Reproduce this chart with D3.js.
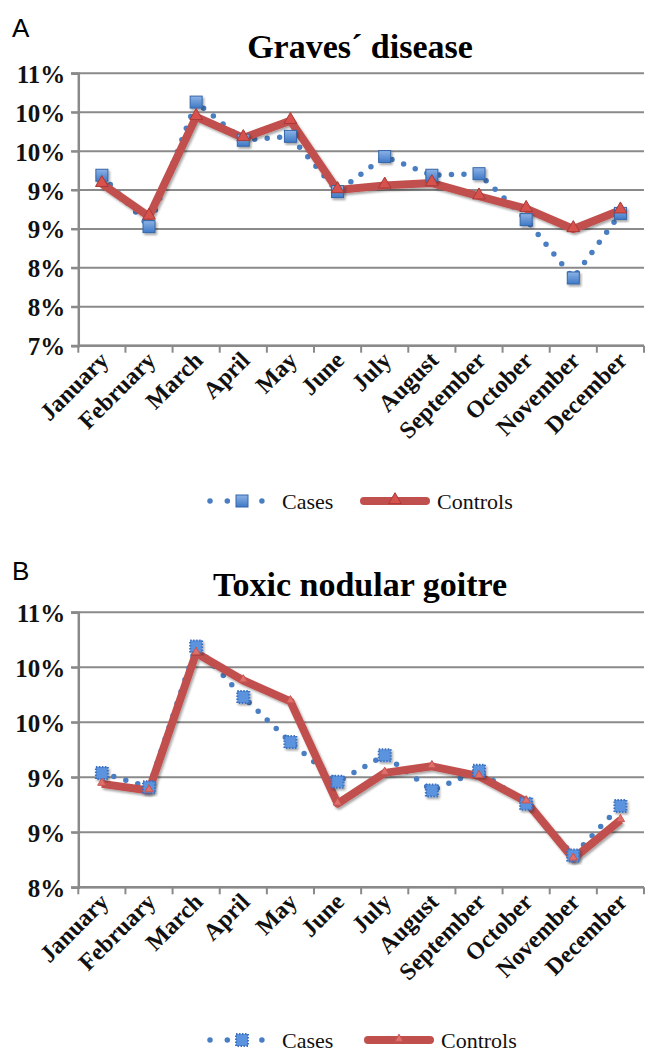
<!DOCTYPE html>
<html>
<head>
  <meta charset="utf-8">
  <title>Seasonality – Graves disease / Toxic nodular goitre</title>
  <script src="https://d3js.org/d3.v7.min.js"></script>
  <style>
    html, body {
      margin: 0;
      padding: 0;
      background: #fff;
    }
    svg { display: block; }
  </style>
</head>
<body>
  <svg width="651" height="1052"></svg>

  <script>
    // values (percent of yearly cases per month)
    const months = ["January", "February", "March", "April", "May", "June",
      "July", "August", "September", "October", "November", "December"];

    const gravesCases    = [9.19, 8.53, 10.13, 9.64, 9.69, 8.98, 9.43, 9.19, 9.21, 8.62, 7.87, 8.70];
    const gravesControls = [9.08, 8.66, 9.94, 9.67, 9.89, 9.00, 9.06, 9.09, 8.92, 8.76, 8.50, 8.74];
    const gravesTicks    = [7, 7.5, 8, 8.5, 9, 9.5, 10, 10.5];

    const goitreCases    = [9.04, 8.91, 10.19, 9.73, 9.32, 8.96, 9.20, 8.88, 9.06, 8.76, 8.29, 8.74];
    const goitreControls = [8.94, 8.88, 10.13, 9.88, 9.69, 8.76, 9.04, 9.10, 9.01, 8.78, 8.26, 8.61];
    const goitreTicks    = [8, 8.5, 9, 9.5, 10, 10.5];

    const serif = "'Liberation Serif', 'Times New Roman', serif";

    const svg = d3.select("svg");
    const defs = svg.append("defs");

    // soft office-style shadow
    const shadow = defs.append("filter").attr("id", "shadow")
      .attr("x", "-30%").attr("y", "-30%").attr("width", "160%").attr("height", "160%");
    shadow.append("feDropShadow").attr("dx", 1.5).attr("dy", 2)
      .attr("stdDeviation", 1.3).attr("flood-color", "#000").attr("flood-opacity", 0.35);

    const grad = defs.append("linearGradient").attr("id", "sqFill")
      .attr("x1", 0).attr("y1", 0).attr("x2", 0).attr("y2", 1);
    grad.append("stop").attr("offset", "0%").attr("stop-color", "#8DB3E6");
    grad.append("stop").attr("offset", "100%").attr("stop-color", "#3F79C6");

    const blue = "#4A7EC2";
    const red = "#C0504D";
    const gridColor = "#8A8A8A";

    function drawPanel(cfg) {
      const g = svg.append("g");

      const x = d3.scaleBand().domain(months).range([78.3, 644]);
      const y = d3.scaleLinear().domain(d3.extent(cfg.ticks)).range([cfg.bottom, cfg.top]);
      const cx = d => x(d) + x.bandwidth() / 2;

      g.append("text")
        .attr("x", 12).attr("y", cfg.letterY)
        .attr("font-family", "'Liberation Sans', Arial, sans-serif")
        .attr("font-size", 26)
        .text(cfg.letter);

      g.append("text")
        .attr("x", 360).attr("y", cfg.titleY).attr("text-anchor", "middle")
        .attr("font-family", serif).attr("font-weight", "bold").attr("font-size", 34)
        .text(cfg.title);

      // gridlines
      g.append("g").selectAll("line")
        .data(cfg.ticks)
        .join("line")
        .attr("x1", 71).attr("x2", 644)
        .attr("y1", d => y(d)).attr("y2", d => y(d))
        .attr("stroke", gridColor).attr("stroke-width", 2);

      // y axis
      const yAxis = g.append("g")
        .attr("transform", "translate(78.3,0)")
        .call(d3.axisLeft(y).tickValues(cfg.ticks).tickSize(7)
          .tickFormat(d => Math.round(d) + "%"));
      yAxis.attr("font-family", serif).attr("font-size", 25).attr("font-weight", "bold");
      yAxis.select(".domain").attr("stroke", gridColor).attr("stroke-width", 2.5);
      yAxis.selectAll(".tick line").attr("stroke", gridColor).attr("stroke-width", 2);
      yAxis.selectAll(".tick text").attr("fill", "#111")
        .attr("x", -13).attr("dy", "0.36em");

      // x axis baseline and boundary ticks
      g.append("line")
        .attr("x1", 78.3).attr("x2", 644)
        .attr("y1", cfg.bottom).attr("y2", cfg.bottom)
        .attr("stroke", gridColor).attr("stroke-width", 2.5);
      g.append("g").selectAll("line")
        .data(d3.range(months.length + 1))
        .join("line")
        .attr("x1", i => 78.3 + i * x.step()).attr("x2", i => 78.3 + i * x.step())
        .attr("y1", cfg.bottom).attr("y2", cfg.bottom + 7)
        .attr("stroke", gridColor).attr("stroke-width", 2);

      g.append("g").selectAll("text")
        .data(months)
        .join("text")
        .attr("font-family", serif).attr("font-weight", "bold").attr("font-size", 24)
        .attr("fill", "#111")
        .attr("text-anchor", "end")
        .attr("transform", d => `translate(${cx(d) + 8},${cfg.bottom + 16}) rotate(-45)`)
        .text(d => d);

      const line = d3.line().x((d, i) => cx(months[i])).y(d => y(d));

      // cases: round dotted line
      g.append("path")
        .datum(cfg.cases)
        .attr("d", line)
        .attr("fill", "none")
        .attr("stroke", blue)
        .attr("stroke-width", 5.5)
        .attr("stroke-linecap", "round")
        .attr("stroke-dasharray", "0 12.5");

      // controls: thick red line
      g.append("path")
        .datum(cfg.controls)
        .attr("d", line)
        .attr("fill", "none")
        .attr("stroke", red)
        .attr("stroke-width", 8)
        .attr("stroke-linejoin", "round")
        .attr("filter", "url(#shadow)");

      const sq = cfg.dottedSquares;
      g.append("g").selectAll("rect")
        .data(cfg.cases)
        .join("rect")
        .attr("x", (d, i) => cx(months[i]) - 6)
        .attr("y", d => y(d) - 6)
        .attr("width", 12).attr("height", 12)
        .attr("fill", sq ? "#5B93DE" : "url(#sqFill)")
        .attr("stroke", sq ? "#3C70C0" : "#3466A8")
        .attr("stroke-width", sq ? 2 : 1)
        .attr("stroke-dasharray", sq ? "1.5 1.5" : null)
        .attr("filter", "url(#shadow)");

      const tri = d3.symbol().type(d3.symbolTriangle).size(sq ? 30 : 70);
      g.append("g").selectAll("path")
        .data(cfg.controls)
        .join("path")
        .attr("d", tri)
        .attr("transform", (d, i) => `translate(${cx(months[i])},${y(d) - 1})`)
        .attr("fill", sq ? "#E0706C" : "#D7514D")
        .attr("stroke", sq ? "#C65450" : "#A83A37")
        .attr("stroke-width", 1);

      // legend
      const ly = cfg.legendY;
      const lg = g.append("g")
        .attr("font-family", serif).attr("font-size", 22).attr("fill", "#111");
      lg.append("line")
        .attr("x1", 210).attr("x2", 262).attr("y1", ly).attr("y2", ly)
        .attr("stroke", blue).attr("stroke-width", 5.5)
        .attr("stroke-linecap", "round").attr("stroke-dasharray", "0 17.3");
      lg.append("rect")
        .attr("x", 236).attr("y", ly - 6).attr("width", 12).attr("height", 12)
        .attr("fill", sq ? "#5B93DE" : "url(#sqFill)")
        .attr("stroke", sq ? "#3C70C0" : "#3466A8")
        .attr("stroke-width", sq ? 2 : 1)
        .attr("stroke-dasharray", sq ? "1.5 1.5" : null);
      lg.append("text")
        .attr("x", 282).attr("y", ly).attr("dy", "0.35em").text("Cases");

      lg.append("line")
        .attr("x1", cfg.legendLine[0]).attr("x2", cfg.legendLine[1])
        .attr("y1", ly).attr("y2", ly)
        .attr("stroke", red).attr("stroke-width", 8).attr("stroke-linecap", "round");
      lg.append("path")
        .attr("d", tri)
        .attr("transform", `translate(${(cfg.legendLine[0] + cfg.legendLine[1]) / 2},${ly - 1})`)
        .attr("fill", sq ? "#E0706C" : "#D7514D")
        .attr("stroke", sq ? "#C65450" : "#A83A37");
      lg.append("text")
        .attr("x", cfg.legendLine[1] + 11).attr("y", ly).attr("dy", "0.35em").text("Controls");
    }

    drawPanel({
      letter: "A", letterY: 37,
      title: "Graves\u00B4 disease", titleY: 58,
      top: 73.3, bottom: 345.7, ticks: gravesTicks,
      cases: gravesCases, controls: gravesControls,
      legendY: 501, legendLine: [364, 426], dottedSquares: false
    });

    drawPanel({
      letter: "B", letterY: 580,
      title: "Toxic nodular goitre", titleY: 596,
      top: 612.3, bottom: 887.3, ticks: goitreTicks,
      cases: goitreCases, controls: goitreControls,
      legendY: 1040, legendLine: [368, 430], dottedSquares: true
    });
  </script>
</body>
</html>
